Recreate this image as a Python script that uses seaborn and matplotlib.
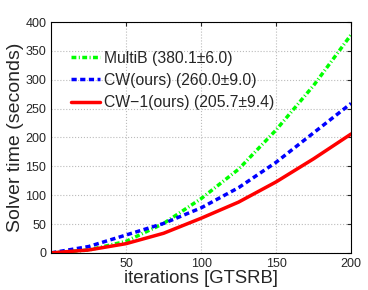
import pandas as pd
import seaborn as sns
import matplotlib
matplotlib.use("Agg")
import matplotlib.pyplot as plt

# values
iterations = [0, 25, 50, 75, 100, 125, 150, 175, 200]
multib = [0, 5, 20, 51, 94, 145, 213, 290, 378]
cw = [0, 11, 31, 51, 78, 113, 157, 208, 259]
cw1 = [0, 5, 16, 34, 60, 88, 123, 163, 206]

labels = ["MultiB (380.1\u00b16.0)", "CW(ours) (260.0\u00b19.0)", "CW\u22121(ours) (205.7\u00b19.4)"]
colors = ["#00ff00", "#0000ff", "#ff0000"]
styles = [(0, (1.4, 0.7, 0.3, 0.7)), (0, (1.5, 1.0)), "-"]

sns.set_style("white")
plt.rcParams["font.family"] = ["Liberation Sans", "DejaVu Sans"]

fig = plt.figure(figsize=(3.68, 2.90), dpi=100)
ax = fig.add_axes([0.139, 0.128, 0.815, 0.796])

for vals, lab, col, ls in zip([multib, cw, cw1], labels, colors, styles):
    df = pd.DataFrame({"x": iterations, "y": vals})
    sns.lineplot(data=df, x="x", y="y", ax=ax, color=col, linestyle=ls,
                 linewidth=2.5, label=lab)

ax.set_xlim(0, 200)
ax.set_ylim(0, 400)
ax.set_xticks([50, 100, 150, 200])
ax.set_yticks(range(0, 401, 50))
ax.grid(True, linestyle=":", color="#bbbbbb", linewidth=0.8)
ax.tick_params(direction="in", top=True, right=True, labelsize=9, length=3)
for s in ax.spines.values():
    s.set_color("black")
    s.set_linewidth(0.8)
ax.set_xlabel("iterations [GTSRB]", fontsize=13.3, labelpad=0)
ax.set_ylabel("Solver time (seconds)", fontsize=14, labelpad=1)

ax.legend(loc="upper left", bbox_to_anchor=(0.065, 0.875), frameon=False,
          fontsize=11.3, handlelength=1.9, handletextpad=0.25, labelspacing=0.45,
          borderaxespad=0, borderpad=0)

fig.savefig("out.png", dpi=100)
